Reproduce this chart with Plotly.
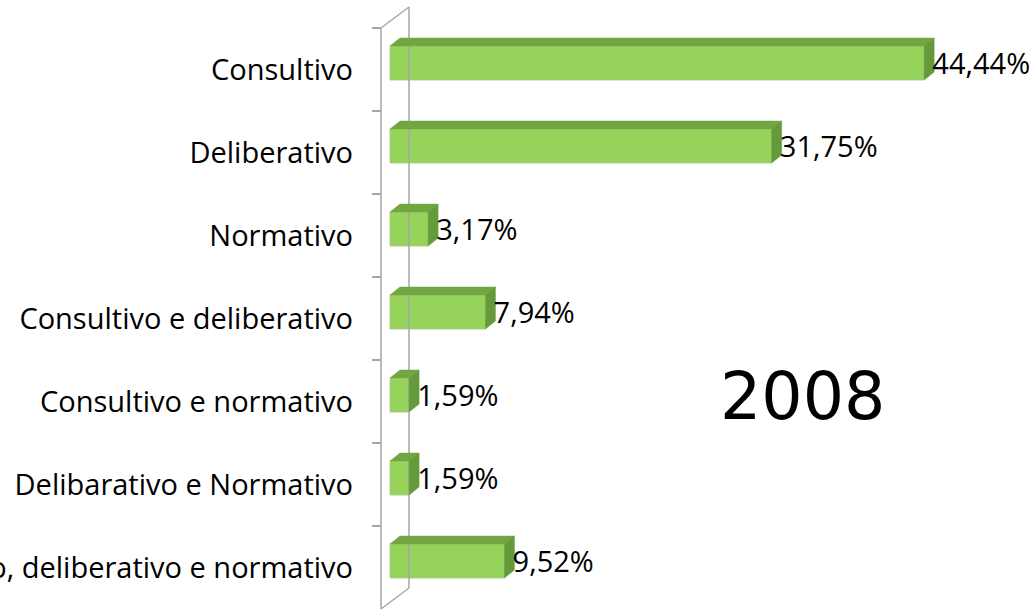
import plotly.graph_objects as go

categories = [
    "Consultivo",
    "Deliberativo",
    "Normativo",
    "Consultivo e deliberativo",
    "Consultivo e normativo",
    "Delibarativo e Normativo",
    "Consultivo, deliberativo e normativo",
]
values = [44.44, 31.75, 3.17, 7.94, 1.59, 1.59, 9.52]
value_labels = ["44,44%", "31,75%", "3,17%", "7,94%", "1,59%", "1,59%", "9,52%"]
year_label = "2008"

# style / geometry (data units)
FRONT = "#96D35A"
TOP = "#71A642"
SIDE = "#659A3A"
WALL = "#A6A6A6"
LABEL_FONT = "Open Sans"
LABEL_SIZE = 29
BAR_OFFSET = -0.283
BAR_WIDTH = 0.41
DX = 0.83      # depth offset along x (percent units)
DY = -0.096    # depth offset along y (category units)
WALL_X0 = -0.75
WALL_DX = 2.33
WALL_DY = -0.253
LABEL_SHIFT = 0.05

n = len(categories)
pos = list(range(n))

fig = go.Figure()

# wall lines (axis decoration)
wx, wy = [], []
wx += [WALL_X0, WALL_X0, None]; wy += [-0.5, n - 0.5, None]
wx += [WALL_X0 + WALL_DX, WALL_X0 + WALL_DX, None]; wy += [-0.5 + WALL_DY, n - 0.5 + WALL_DY, None]
wx += [WALL_X0, WALL_X0 + WALL_DX, None]; wy += [-0.5, -0.5 + WALL_DY, None]
wx += [WALL_X0, WALL_X0 + WALL_DX, None]; wy += [n - 0.5, n - 0.5 + WALL_DY, None]
fig.add_trace(go.Scatter(x=wx, y=wy, mode="lines", line=dict(color=WALL, width=1.5),
                         hoverinfo="skip", showlegend=False))

# front faces
fig.add_trace(go.Bar(x=values, y=pos, orientation="h", base=0, width=BAR_WIDTH,
                     offset=BAR_OFFSET, marker=dict(color=FRONT, line=dict(color="#A9C98C", width=0.8)),
                     showlegend=False, hoverinfo="skip"))

# top faces and side faces
tx, ty, sx, sy = [], [], [], []
for p, v in zip(pos, values):
    top = p + BAR_OFFSET
    bot = p + BAR_OFFSET + BAR_WIDTH
    tx += [0, v, v + DX, DX, 0, None]
    ty += [top, top, top + DY, top + DY, top, None]
    sx += [v, v + DX, v + DX, v, v, None]
    sy += [top, top + DY, bot + DY, bot, top, None]
fig.add_trace(go.Scatter(x=tx, y=ty, mode="lines", fill="toself", fillcolor=TOP,
                         line=dict(color=TOP, width=0.5), hoverinfo="skip", showlegend=False))
fig.add_trace(go.Scatter(x=sx, y=sy, mode="lines", fill="toself", fillcolor=SIDE,
                         line=dict(color=SIDE, width=0.5), hoverinfo="skip", showlegend=False))

# value labels
fig.add_trace(go.Scatter(
    x=[v + DX - 0.15 for v in values],
    y=[p + BAR_OFFSET + BAR_WIDTH / 2 + LABEL_SHIFT for p in pos],
    mode="text", text=value_labels, textposition="middle right",
    textfont=dict(family=LABEL_FONT, size=LABEL_SIZE, color="#000000"),
    cliponaxis=False, hoverinfo="skip", showlegend=False))

fig.add_annotation(x=0.652, y=0.35, xref="paper", yref="paper", text=year_label,
                   showarrow=False, font=dict(family="DejaVu Sans", size=65, color="#000000"),
                   xanchor="center", yanchor="middle")

plot_left = 372
px_per_unit = 12.02
fig.update_layout(
    width=1033, height=610,
    margin=dict(l=plot_left, r=0, t=0, b=0),
    paper_bgcolor="white", plot_bgcolor="white",
    template="none",
    showlegend=False,
    xaxis=dict(range=[-(390 - plot_left) / px_per_unit, (1033 - 390) / px_per_unit],
               visible=False, automargin=False),
    yaxis=dict(range=[n - 0.5 + 1 / 83, -0.5 - 28 / 83],
               tickmode="array", tickvals=pos, ticktext=categories,
               ticks="", showline=False, showgrid=False, zeroline=False,
               automargin=False, ticklabelstandoff=18,
               tickfont=dict(family=LABEL_FONT, size=LABEL_SIZE, color="#000000"),
               minor=dict(tickmode="array", tickvals=[p - 0.5 for p in pos],
                          ticks="inside", ticklen=9, tickwidth=1.5, tickcolor=WALL,
                          showgrid=False)),
)

fig.write_html("out.html", config={"displayModeBar": False},
               post_script="document.body.style.margin='0px';document.body.style.padding='0px';")
